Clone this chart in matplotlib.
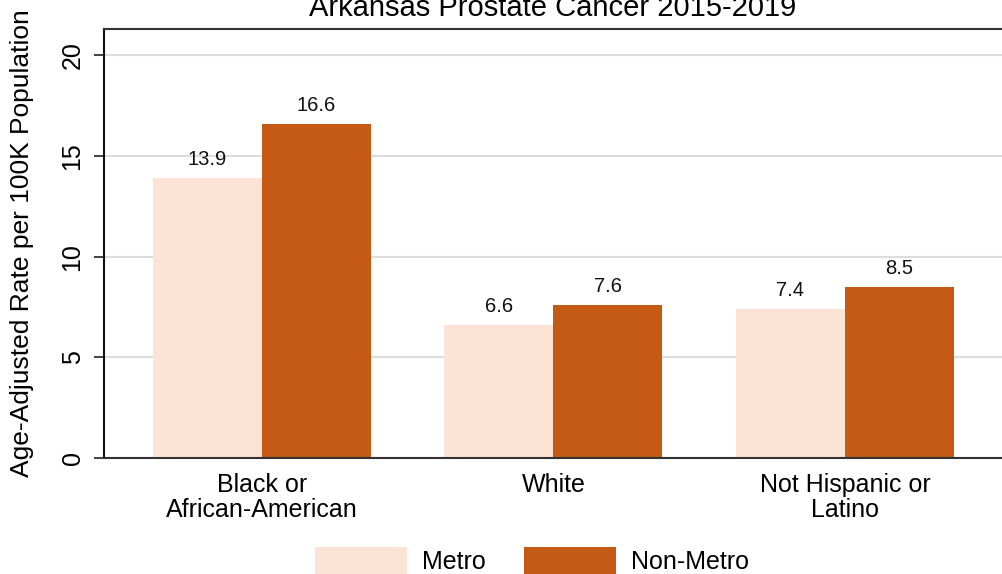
import matplotlib
matplotlib.use("Agg")
import matplotlib.pyplot as plt
import numpy as np

categories = ["Black or\nAfrican-American", "White", "Not Hispanic or\nLatino"]
metro = [13.9, 6.6, 7.4]
non_metro = [16.6, 7.6, 8.5]
series_names = ["Metro", "Non-Metro"]
yticks = [0, 5, 10, 15, 20]
title = "Arkansas Prostate Cancer 2015-2019"
ylabel = "Age-Adjusted Rate per 100K Population"

c_metro = "#FCE3D6"
c_non = "#C45A13"

plt.rcParams['font.family'] = ['Liberation Sans', 'DejaVu Sans']

W, H = 1002, 574
fig = plt.figure(figsize=(W/100, H/100), dpi=100)
ax = fig.add_axes([104/W, (H-458)/H, (W-104)/W, (458-29)/H])

x = np.arange(len(categories))
bw = 0.374
b1 = ax.bar(x - bw/2, metro, bw, color=c_metro, label=series_names[0], zorder=2)
b2 = ax.bar(x + bw/2, non_metro, bw, color=c_non, label=series_names[1], zorder=2)

for bars, vals in ((b1, metro), (b2, non_metro)):
    for r, v in zip(bars, vals):
        ax.annotate(f"{v:.1f}", (r.get_x() + r.get_width()/2, v),
                    xytext=(0, 6.5), textcoords="offset points",
                    ha="center", va="bottom", fontsize=14.5, color="#111111")

ax.set_xlim(-0.542, 2.539)
ax.set_ylim(0, 21.3)
ax.set_yticks(yticks)
ax.set_yticklabels([str(t) for t in yticks], rotation=90, va="center", fontsize=18)
ax.set_xticks(x)
ax.set_xticklabels(categories, fontsize=18, linespacing=1.05)
ax.tick_params(axis="x", length=0, pad=11)
ax.tick_params(axis="y", length=7, width=1.2, pad=7, color="#222222")
ax.yaxis.grid(True, color="#DDDDDD", linewidth=1.5, zorder=0)
ax.set_axisbelow(True)

ax.spines["right"].set_visible(False)
ax.spines["top"].set_color("#333333")
ax.spines["top"].set_linewidth(1.5)
ax.spines["left"].set_color("#111111")
ax.spines["left"].set_linewidth(1.5)
ax.spines["bottom"].set_color("#333333")
ax.spines["bottom"].set_linewidth(1.5)

ax.set_title(title, fontsize=21, pad=9)
ax.set_ylabel(ylabel, fontsize=19, labelpad=19)

fig.legend(handles=[b1, b2], labels=series_names, loc="center",
           bbox_to_anchor=(532/W, 13/H), ncol=2, frameon=False, fontsize=18,
           handlelength=3.7, handleheight=1.3, handletextpad=0.6,
           columnspacing=1.5, borderpad=0, borderaxespad=0)

fig.savefig("out.png", dpi=100)
